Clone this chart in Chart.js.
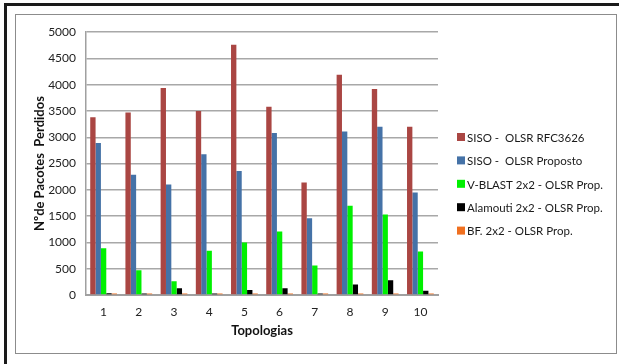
<!DOCTYPE html>
<html>
<head>
<meta charset="utf-8">
<script src="https://cdn.jsdelivr.net/npm/chart.js@4/dist/chart.umd.min.js"></script>
<style>
  body { margin: 0; background: #fff; }
  #outer {
    position: absolute; left: 4px; top: 3px; width: 620px; height: 370px;
    border-top: 3px solid #1a1a1a; border-left: 3px solid #1a1a1a;
  }
  #frame {
    position: absolute; left: 15px; top: 14px; width: 600px; height: 338px;
    border: 1px solid #8c8c8c; background: #fff;
  }
  canvas { display: block; }
</style>
</head>
<body>
<div id="outer"></div>
<div id="frame"><canvas id="c" width="600" height="338"></canvas></div>
<script>
const categories = ['1', '2', '3', '4', '5', '6', '7', '8', '9', '10'];
const sisoRfc = [3380, 3470, 3940, 3500, 4760, 3580, 2140, 4190, 3920, 3200];
const sisoProposto = [2890, 2290, 2100, 2680, 2360, 3080, 1460, 3110, 3200, 1950];
const vblast = [890, 470, 260, 840, 1000, 1210, 560, 1700, 1530, 830];
const alamouti = [35, 30, 130, 30, 95, 130, 30, 200, 280, 80];
const bf = [30, 30, 30, 30, 30, 30, 30, 30, 30, 30];
const seriesNames = ['SISO -  OLSR RFC3626', 'SISO -  OLSR Proposto', 'V-BLAST 2x2 - OLSR Prop.', 'Alamouti 2x2 - OLSR Prop.', 'BF. 2x2 - OLSR Prop.'];
const colors = ['#AA4643', '#4572A7', '#00F000', '#000000', '#F07020'];

const font = 'Lato, "Open Sans", sans-serif';

// legend drawn by hand so it sits where the original has it
const sideLegend = {
  id: 'sideLegend',
  afterDraw(chart) {
    const ctx = chart.ctx;
    ctx.save();
    ctx.font = '11.5px ' + font;
    ctx.textBaseline = 'middle';
    chart.data.datasets.forEach((ds, i) => {
      const y = 122 + i * 23.4;
      ctx.fillStyle = ds.backgroundColor;
      ctx.fillRect(441, y - 4, 8, 8);
      ctx.fillStyle = '#1a1a1a';
      ctx.fillText(ds.label, 451, y + 1);
    });
    ctx.restore();
  }
};

new Chart(document.getElementById('c'), {
  type: 'bar',
  data: {
    labels: categories,
    datasets: [sisoRfc, sisoProposto, vblast, alamouti, bf].map((d, i) => ({
      label: seriesNames[i],
      data: d,
      backgroundColor: colors[i],
      borderWidth: 0,
      categoryPercentage: 0.76,
      barPercentage: 1
    }))
  },
  options: {
    responsive: false,
    animation: false,
    layout: { padding: { left: 0, top: 12, right: 178, bottom: 0 } },
    plugins: { legend: { display: false }, tooltip: { enabled: false } },
    scales: {
      x: {
        grid: { display: false, drawTicks: false },
        border: { color: '#a0a0a0', width: 2 },
        ticks: { color: '#222', font: { family: font, size: 12 }, padding: 10 },
        title: { display: true, text: 'Topologias', color: '#111', font: { family: font, size: 13, weight: 'bold' }, padding: { top: 0, bottom: 14 } },
        afterFit(s) { s.height = 58; }
      },
      y: {
        min: 0, max: 5000,
        ticks: { stepSize: 500, color: '#222', font: { family: font, size: 12 }, padding: 10, callback: v => String(v) },
        grid: { color: '#a8a8a8', lineWidth: 1.5, drawTicks: false },
        border: { color: '#a0a0a0', width: 1.5 },
        title: { display: true, text: 'Nºde Pacotes  Perdidos', color: '#111', font: { family: font, size: 13, weight: 'bold' }, padding: { top: 16, bottom: 0 } },
        afterFit(s) { s.width = 70; }
      }
    }
  },
  plugins: [sideLegend]
});
</script>
</body>
</html>
